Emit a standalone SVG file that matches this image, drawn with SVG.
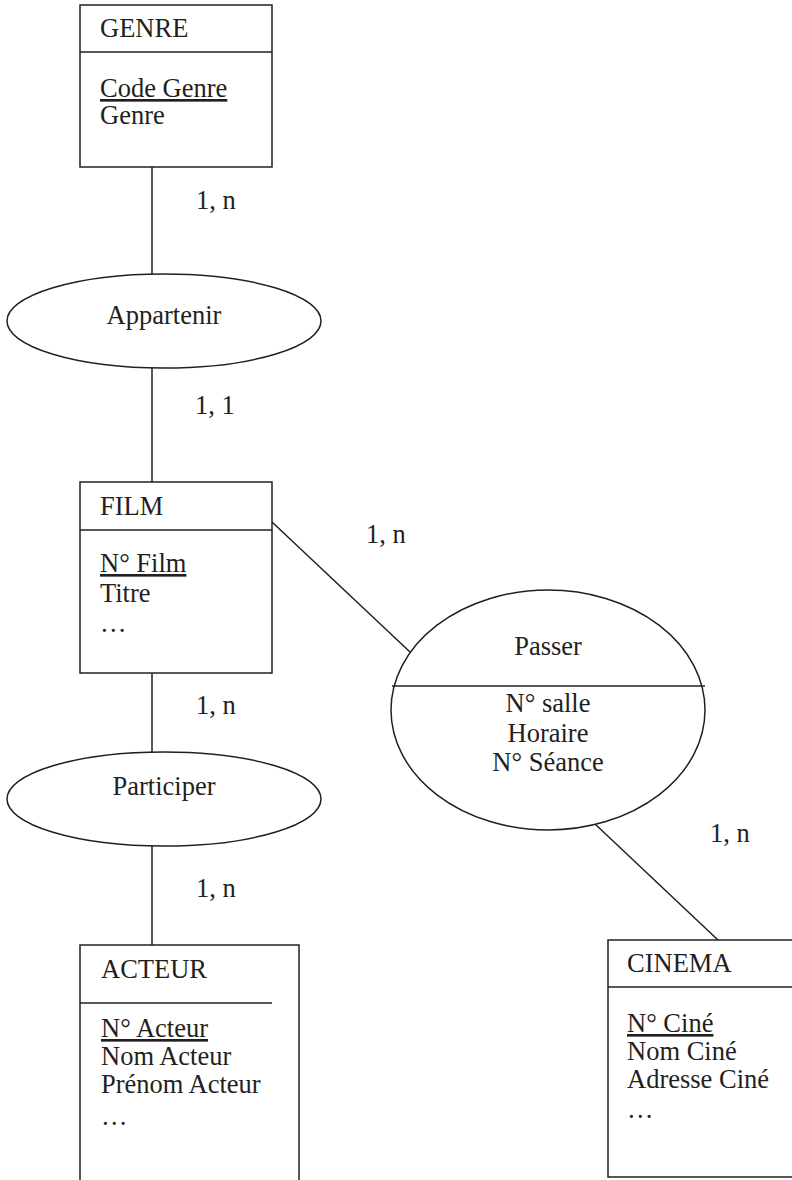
<svg xmlns="http://www.w3.org/2000/svg" width="792" height="1180" viewBox="0 0 792 1180">
<style>
.s{fill:none;stroke:#231f20;stroke-width:1.5}
.b{fill:#fff;stroke:#231f20;stroke-width:1.5}
text{font-family:"Liberation Serif","Times New Roman",serif;font-size:26.5px;fill:#231f20}
.c{text-anchor:middle}
.u{text-decoration:underline}
</style>
<rect width="792" height="1180" fill="#fff"/>
<g id="connectors">
<line class="s" x1="152" y1="167" x2="152" y2="274"/>
<line class="s" x1="152" y1="368" x2="152" y2="482"/>
<line class="s" x1="152" y1="673" x2="152" y2="752"/>
<line class="s" x1="152" y1="846" x2="152" y2="945"/>
<line class="s" x1="272" y1="522" x2="410" y2="652"/>
<line class="s" x1="595" y1="824" x2="718" y2="940"/>
<text x="196" y="209">1, n</text>
<text x="195" y="414">1, 1</text>
<text x="366" y="543">1, n</text>
<text x="196" y="714">1, n</text>
<text x="196" y="897">1, n</text>
<text x="710" y="842">1, n</text>
</g>
<g id="genre">
<rect class="b" x="80" y="5" width="192" height="162"/>
<line class="s" x1="80" y1="52" x2="272" y2="52"/>
<text x="100" y="37">GENRE</text>
<text x="100" y="97" class="u">Code Genre</text>
<text x="100" y="124">Genre</text>
</g>
<g id="appartenir">
<ellipse class="b" cx="164" cy="321" rx="157" ry="47"/>
<text x="164" y="324" class="c">Appartenir</text>
</g>
<g id="film">
<rect class="b" x="80" y="482" width="192" height="191"/>
<line class="s" x1="80" y1="530" x2="272" y2="530"/>
<text x="100" y="515">FILM</text>
<text x="100" y="572" class="u">N° Film</text>
<text x="100" y="602">Titre</text>
<text x="100" y="632">…</text>
</g>
<g id="passer">
<ellipse class="b" cx="548" cy="710" rx="157" ry="120"/>
<line class="s" x1="392" y1="686" x2="705" y2="686"/>
<text x="548" y="655" class="c">Passer</text>
<text x="548" y="712" class="c">N° salle</text>
<text x="548" y="742" class="c">Horaire</text>
<text x="548" y="771" class="c">N° Séance</text>
</g>
<g id="participer">
<ellipse class="b" cx="164" cy="799" rx="157" ry="47"/>
<text x="164" y="795" class="c">Participer</text>
</g>
<g id="acteur">
<rect class="b" x="80" y="945" width="219" height="250"/>
<line class="s" x1="80" y1="1003" x2="272" y2="1003"/>
<text x="101" y="978">ACTEUR</text>
<text x="101" y="1037" class="u">N° Acteur</text>
<text x="101" y="1065">Nom Acteur</text>
<text x="101" y="1093">Prénom Acteur</text>
<text x="101" y="1125">…</text>
</g>
<g id="cinema">
<rect class="b" x="608" y="940" width="200" height="237"/>
<line class="s" x1="608" y1="987" x2="800" y2="987"/>
<text x="627" y="972">CINEMA</text>
<text x="627" y="1032" class="u">N° Ciné</text>
<text x="627" y="1060">Nom Ciné</text>
<text x="627" y="1088">Adresse Ciné</text>
<text x="627" y="1118">…</text>
</g>
</svg>
